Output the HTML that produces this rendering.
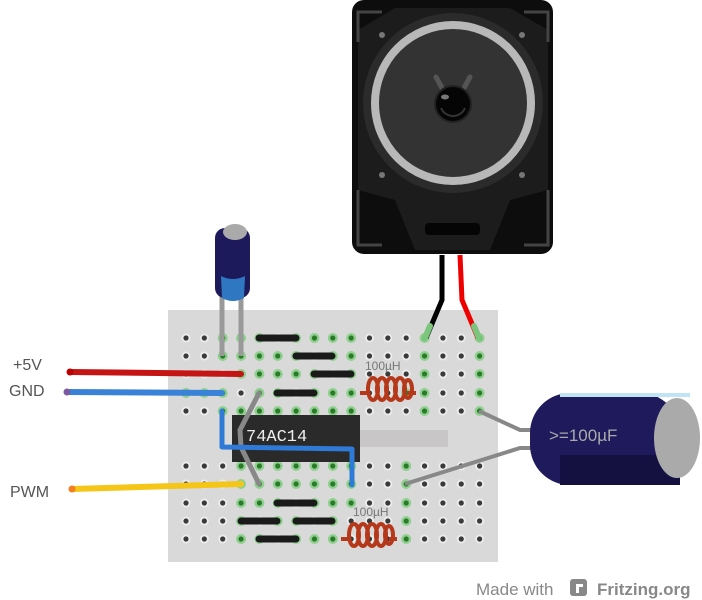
<!DOCTYPE html>
<html><head><meta charset="utf-8"><style>
html,body{margin:0;padding:0;background:#fff;width:702px;height:600px;overflow:hidden}
svg{display:block}
</style></head><body>
<svg width="702" height="600" viewBox="0 0 702 600" xmlns="http://www.w3.org/2000/svg" font-family="Liberation Sans, DejaVu Sans, sans-serif">
<!-- breadboard -->
<rect x="168" y="310" width="330" height="252" fill="#d9d9d9"/>
<rect x="360" y="430" width="88" height="17" fill="#c8c6c6"/>
<g id="holes"></g>
<!-- speaker -->
<rect x="352" y="0" width="201" height="254" rx="12" fill="#0d0d0d"/>
<path d="M358 30 L395 8 L510 8 L548 30 L548 190 L510 200 L490 250 L415 250 L395 200 L358 190Z" fill="#1c1c1c"/>
<circle cx="453" cy="103" r="90" fill="#2b2b2b"/>
<circle cx="453" cy="103" r="78" fill="#333" stroke="#b8b8b8" stroke-width="8"/>
<path d="M436 77 L442 88 M470 77 L464 88" stroke="#555" stroke-width="5" stroke-linecap="round"/>
<circle cx="453" cy="104" r="18" fill="#050505" stroke="#222" stroke-width="2"/>
<path d="M441 108 A13 13 0 0 0 465 108" stroke="#333" stroke-width="2" fill="none"/>
<ellipse cx="445" cy="97" rx="4" ry="2.5" fill="#777"/>
<circle cx="382" cy="35" r="3" fill="#777"/><circle cx="522" cy="35" r="3" fill="#777"/>
<circle cx="382" cy="175" r="3" fill="#777"/><circle cx="522" cy="175" r="3" fill="#777"/>
<path d="M358 42 V12 H382 M548 42 V12 H524 M358 190 V245 H382 M548 190 V245 H524" stroke="#444" stroke-width="3" fill="none"/>
<rect x="425" y="223" width="55" height="12" rx="4" fill="#050505"/>
<!-- speaker wires -->
<path d="M442 255 L442 300 L426 338" stroke="#000" stroke-width="5" fill="none"/>
<path d="M460 255 L462 300 L478 338" stroke="#e00" stroke-width="5" fill="none"/>
<path d="M430 326 L425 338 M474 326 L479 338" stroke="#7cc57c" stroke-width="6" stroke-linecap="round"/>
<!-- jumpers (black) -->
<g stroke="#1a1a1a" stroke-width="7" stroke-linecap="round">
<line x1="259" y1="338" x2="296" y2="338"/>
<line x1="296" y1="356" x2="332" y2="356"/>
<line x1="314" y1="374" x2="351" y2="374"/>
<line x1="277" y1="393" x2="314" y2="393"/>
<line x1="277" y1="503" x2="314" y2="503"/>
<line x1="241" y1="521" x2="277" y2="521"/>
<line x1="296" y1="521" x2="332" y2="521"/>
<line x1="259" y1="539" x2="296" y2="539"/>
</g>
<!-- chip -->
<rect x="232" y="415" width="128" height="47" fill="#2a2a2a"/>
<text x="246" y="441" font-family="Liberation Mono, monospace" font-size="17" fill="#eee">74AC14</text>
<!-- gray X wire -->
<path d="M259 393 L240 430 L241 447 L259 484" stroke="#888" stroke-width="5" fill="none" stroke-linecap="round"/>
<!-- blue board wire -->
<path d="M222 411 L222 447 L352 449 L352 485" stroke="#2e7ad6" stroke-width="5" fill="none" stroke-linejoin="round" stroke-linecap="round"/>
<!-- external wires -->
<line x1="70" y1="372" x2="241" y2="374" stroke="#c41414" stroke-width="6" stroke-linecap="round"/>
<line x1="67" y1="392" x2="222" y2="393" stroke="#3a82d8" stroke-width="6" stroke-linecap="round"/>
<line x1="72" y1="489" x2="241" y2="484" stroke="#f5c518" stroke-width="6" stroke-linecap="round"/>
<circle cx="70" cy="372" r="3.5" fill="#b00"/><circle cx="67" cy="392" r="3.5" fill="#7a5aa0"/><circle cx="72" cy="489" r="3.5" fill="#f08020"/>
<!-- small cap -->
<path d="M222 290 V356 M241 290 V356" stroke="#999" stroke-width="5"/>
<rect x="215" y="228" width="35" height="70" rx="10" fill="#1c1a5a"/>
<ellipse cx="235" cy="232" rx="12" ry="8" fill="#aaa"/>
<path d="M221 276 Q233 282 245 276 L244 298 Q233 304 222 298Z" fill="#2f77c0"/>
<!-- inductors -->
<g stroke="#b5381a" stroke-width="4" fill="none">
<path d="M360 393 H369"/><path d="M408 393 H416"/>
<ellipse cx="373" cy="389" rx="5" ry="11"/><ellipse cx="382" cy="389" rx="5" ry="11"/><ellipse cx="391" cy="389" rx="5" ry="11"/><ellipse cx="400" cy="389" rx="5" ry="11"/><ellipse cx="408" cy="389" rx="4" ry="9"/>
<path d="M341 539 H350"/><path d="M389 539 H397"/>
<ellipse cx="354" cy="535" rx="5" ry="11"/><ellipse cx="363" cy="535" rx="5" ry="11"/><ellipse cx="372" cy="535" rx="5" ry="11"/><ellipse cx="381" cy="535" rx="5" ry="11"/><ellipse cx="389" cy="535" rx="4" ry="9"/>
</g>
<text x="365" y="370" font-size="12" fill="#777">100µH</text>
<text x="353" y="516" font-size="12" fill="#777">100µH</text>
<!-- big cap wires -->
<path d="M479 411 L520 430 L540 430 M405 484 L520 448 L540 448" stroke="#888" stroke-width="4" fill="none"/>
<!-- big cap -->
<rect x="530" y="393" width="150" height="92" rx="40" fill="#1e1a5c"/>
<rect x="560" y="455" width="120" height="30" fill="#141040"/>
<path d="M560 395 L690 395" stroke="#bfe4f5" stroke-width="4"/>
<ellipse cx="677" cy="438" rx="23" ry="40" fill="#aaa"/>
<text x="549" y="441" font-size="17" fill="#aaa">&gt;=100µF</text>
<!-- labels -->
<text x="13" y="370" font-size="16" fill="#555">+5V</text>
<text x="9" y="396" font-size="16" fill="#555">GND</text>
<text x="10" y="497" font-size="16" fill="#555">PWM</text>
<text x="476" y="595" font-size="17" fill="#888">Made with</text>
<rect x="570" y="579" width="17" height="17" rx="3" fill="#888"/>
<rect x="576" y="584" width="7" height="3" fill="#fff"/><rect x="576" y="584" width="3" height="9" fill="#fff"/>
<text x="597" y="595" font-size="17" font-weight="bold" fill="#888">Fritzing.org</text>
</svg>
<script>
var g=document.getElementById('holes');
var rows=[338,356,374,393,411,466,484,503,521,539];
var greens=[[2,3,4,6,7,8,9,13,16],[2,3,4,5,6,8,9,13,16],[3,4,5,6,7,9,13,16],[0,1,2,4,5,7,8,9,12,13,16],[2,3,4,5,6,7,8,9,13,16],[3,4,5,6,7,8,9,12],[3,4,5,6,7,8,9,12],[3,4,5,7,8,9,12],[3,5,6,8,12],[3,4,6,7,8,12]];
var s='';
for(var r=0;r<10;r++)for(var c=0;c<17;c++){var x=186+c*18.35,y=rows[r];
if(greens[r].indexOf(c)>=0)s+='<circle cx="'+x+'" cy="'+y+'" r="5" fill="#8fd08f"/><circle cx="'+x+'" cy="'+y+'" r="2.6" fill="#2a7a2a"/>';
else s+='<circle cx="'+x+'" cy="'+y+'" r="4.5" fill="#ececec"/><circle cx="'+x+'" cy="'+y+'" r="2.6" fill="#3a3a3a"/>';}
g.innerHTML=s;
</script>
</body></html>
